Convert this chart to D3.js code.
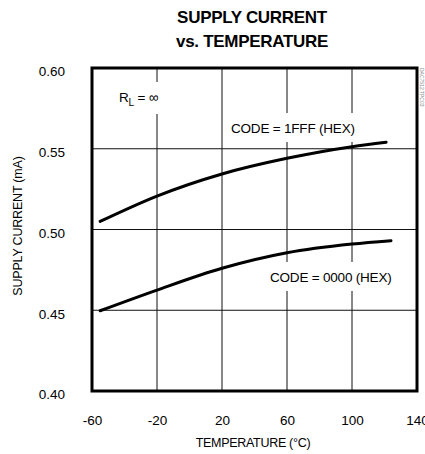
<!DOCTYPE html>
<html>
<head>
<meta charset="utf-8">
<script src="https://cdn.jsdelivr.net/npm/d3@7"></script>
<style>
    body { margin: 0; background: #fff; }
    svg { display: block; font-family: "Liberation Sans", Arial, sans-serif; }
</style>
</head>
<body>
<script>

// temperature ticks (°C) and current ticks (mA)
var tempTicks = [-60, -20, 20, 60, 100, 140];
var currTicks = [0.40, 0.45, 0.50, 0.55, 0.60];

// CODE = 1FFF (HEX)
var tempHigh = [-55, -20, 20, 60, 100, 121];
var currHigh = [0.505, 0.5207, 0.5344, 0.5441, 0.5513, 0.554];

// CODE = 0000 (HEX)
var tempLow = [-55, -20, 20, 60, 100, 124];
var currLow = [0.4497, 0.4625, 0.476, 0.4856, 0.491, 0.4931];

var w = 425;
var h = 454;

//Set chart margins
var margin = {
        top: 68,
        bottom: 63,
        right: 8,
        left: 92
    };

var height = h - margin.top - margin.bottom;
var width = w - margin.left - margin.right;

//Set up scales
var x = d3.scaleLinear()
    .domain([-60, 140])
    .range([0, width]);

var y = d3.scaleLinear()
    .domain([0.40, 0.60])
    .range([height, 0]);

var svg = d3.select("body").append("svg")
    .attr("width", w)
    .attr("height", h);

//Title
var title = svg.append("text")
    .attr("text-anchor", "middle")
    .style("font-size", "17px")
    .style("font-weight", "bold")
    .style("letter-spacing", "-0.3px");
title.append("tspan").attr("x", 252).attr("y", 23).text("SUPPLY CURRENT");
title.append("tspan").attr("x", 252).attr("y", 47).text("vs. TEMPERATURE");

var chart = svg.append("g")
    .attr("transform", "translate(" + margin.left + "," + margin.top + ")");

//Grid lines
chart.append("g")
    .selectAll("line.vgrid")
    .data(tempTicks.slice(1, -1))
    .enter()
        .append("line")
        .attr("x1", function(d) { return x(d); })
        .attr("x2", function(d) { return x(d); })
        .attr("y1", 0)
        .attr("y2", height)
        .style("stroke", "#111")
        .style("stroke-width", 1);

chart.append("g")
    .selectAll("line.hgrid")
    .data(currTicks.slice(1, -1))
    .enter()
        .append("line")
        .attr("x1", 0)
        .attr("x2", width)
        .attr("y1", function(d) { return y(d); })
        .attr("y2", function(d) { return y(d); })
        .style("stroke", "#111")
        .style("stroke-width", 1);

//Axes
var xAxis = d3.axisBottom(x)
    .tickValues(tempTicks)
    .tickSize(0)
    .tickPadding(24)
    .tickFormat(function(d) { return d < 0 ? "-" + Math.abs(d) : d; });

var yAxis = d3.axisLeft(y)
    .tickValues(currTicks)
    .tickSize(0)
    .tickPadding(27)
    .tickFormat(d3.format(".2f"));

var gx = chart.append("g")
    .attr("transform", "translate(0," + height + ")")
    .call(xAxis);

var gy = chart.append("g")
    .call(yAxis);

[gx, gy].forEach(function(g) {
    g.select(".domain").remove();
    g.selectAll("text")
        .style("font-family", "\"Liberation Sans\", Arial, sans-serif")
        .style("font-size", "13.5px")
        .style("fill", "#000");
});
gy.selectAll("text").attr("dy", "0.58em");

//Labels with white backing
function label(tx, ty, parts) {
    var t = chart.append("text")
        .attr("x", tx)
        .attr("y", ty)
        .style("font-size", "13.5px")
        .style("letter-spacing", "-0.2px");
    parts.forEach(function(p) {
        var s = t.append("tspan").text(p.text);
        if (p.sub) s.attr("dy", 4).style("font-size", "10px");
        if (p.back) s.attr("dy", -4);
    });
    var b = t.node().getBBox();
    chart.insert("rect", function() { return t.node(); })
        .attr("x", b.x - 3)
        .attr("y", b.y - 8)
        .attr("width", b.width + 6)
        .attr("height", b.height + 14)
        .style("fill", "#fff");
    return t;
}

//Curves
var line = d3.line()
    .x(function(d) { return x(d[0]); })
    .y(function(d) { return y(d[1]); })
    .curve(d3.curveMonotoneX);

var series = [
    d3.zip(tempHigh, currHigh),
    d3.zip(tempLow, currLow)
];

chart.selectAll(".curve")
    .data(series)
    .enter()
        .append("path")
        .attr("class", "curve")
        .attr("d", line)
        .style("fill", "none")
        .style("stroke", "#000")
        .style("stroke-width", 3)
        .style("stroke-linecap", "round");

label(27, 34, [{text: "R"}, {text: "L", sub: true}, {text: " = \u221e", back: true}]);
label(139, 65, [{text: "CODE = 1FFF (HEX)"}]);
label(178, 214, [{text: "CODE = 0000 (HEX)"}]);

//Frame
chart.append("rect")
    .attr("width", width)
    .attr("height", height)
    .style("fill", "none")
    .style("stroke", "#000")
    .style("stroke-width", 3);

//Axis titles
svg.append("text")
    .attr("x", 253)
    .attr("y", 447)
    .attr("text-anchor", "middle")
    .style("font-size", "12.5px")
    .style("letter-spacing", "-0.3px")
    .text("TEMPERATURE (\u00b0C)");

svg.append("text")
    .attr("transform", "translate(22,226) rotate(-90)")
    .attr("text-anchor", "middle")
    .style("font-size", "12.5px")
    .style("letter-spacing", "-0.2px")
    .text("SUPPLY CURRENT (mA)");

//Figure id, tiny
svg.append("text")
    .attr("transform", "translate(420,68) rotate(90)")
    .style("font-size", "5px")
    .style("fill", "#888")
    .text("DAC7512 TPC03");

</script>
</body>
</html>
